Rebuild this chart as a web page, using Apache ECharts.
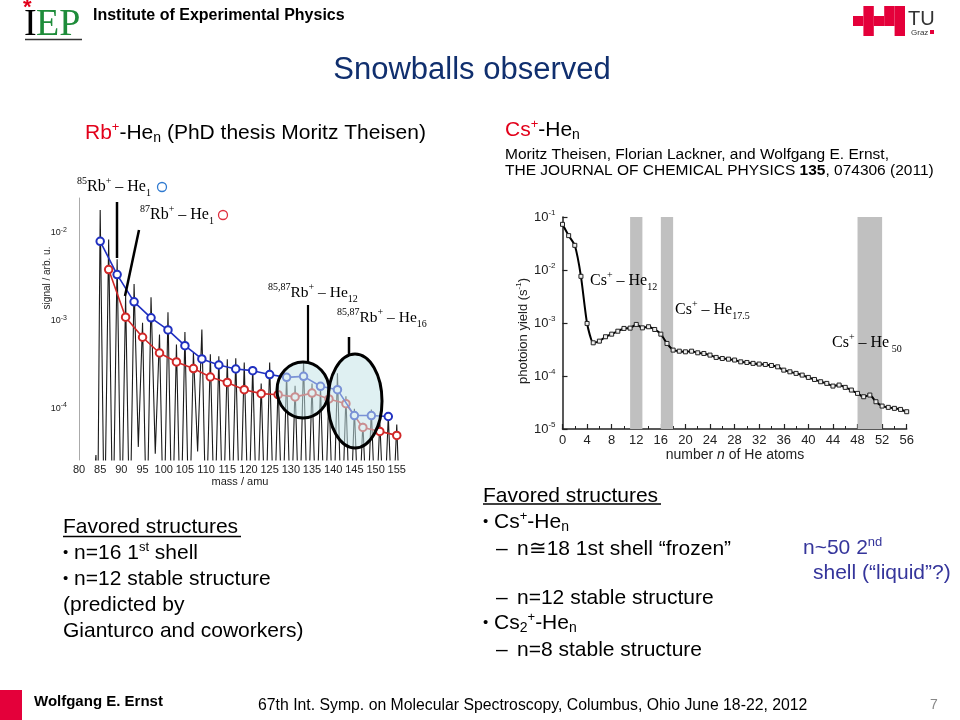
<!DOCTYPE html>
<html><head><meta charset="utf-8">
<script src="https://cdn.jsdelivr.net/npm/echarts@6/dist/echarts.min.js"></script>
<style>html,body{margin:0;padding:0;background:#fff}#c{width:960px;height:720px}</style>
</head><body><div id="c"></div>
<script>
// ---------------- Left chart data: Rb+-He_n mass spectrum ----------------
const rb85Mass   = [85,89,93,97,101,105,109,113,117,121,125,129,133,137,141,145,149,153];
const rb85Signal = [8.0e-3,3.34e-3,1.63e-3,1.07e-3,7.8e-4,5.15e-4,3.63e-4,3.10e-4,2.79e-4,2.67e-4,2.41e-4,2.24e-4,2.30e-4,1.77e-4,1.62e-4,8.2e-5,8.2e-5,8.0e-5];
const rb87Mass   = [87,91,95,99,103,107,111,115,119,123,127,131,135,139,143,147,151,155];
const rb87Signal = [3.81e-3,1.09e-3,6.43e-4,4.25e-4,3.36e-4,2.82e-4,2.26e-4,1.96e-4,1.62e-4,1.46e-4,1.42e-4,1.34e-4,1.48e-4,1.27e-4,1.12e-4,6.0e-5,5.41e-5,4.87e-5];
const specMass = [83.3,84,84.4,85,86,87,88,89,90,91,92,93,94,95,96,97,98,99,100,101,102,103,104,105,106,107,108,109,110,
  111,112,113,114,115,116,117,118,119,120,121,122,123,124,125,126,127,128,129,130,131,132,133,134,135,136,137,138,139,140,
  141,142,143,144,145,146,147,148,149,150,151,152,153,154,155,155.8];
const specSignal = [1e-5,2.9e-5,4e-6,1.82e-2,3e-6,8.4e-3,3e-6,5.0e-3,3e-6,1.9e-3,3e-6,2.6e-3,3.6e-5,9.4e-4,3e-6,1.84e-3,3.0e-5,6.9e-4,3e-6,1.24e-3,3e-6,5.3e-4,3e-6,7.4e-4,3e-6,4.3e-4,3.2e-5,7.9e-4,4e-6,
  4.1e-4,4e-6,3.9e-4,4e-6,3.6e-4,4e-6,3.7e-4,4e-6,3.3e-4,4e-6,3.0e-4,4e-6,1.9e-4,4e-6,3.3e-4,4e-6,1.9e-4,4e-6,2.5e-4,4e-6,1.8e-4,4e-6,3.4e-4,4e-6,1.9e-4,4e-6,1.8e-4,4e-6,1.6e-4,4e-6,
  2.5e-4,4e-6,1.36e-4,4e-6,9.8e-5,5e-6,6.8e-5,5e-6,9.6e-5,5e-6,7.0e-5,5e-6,8.2e-5,5e-6,6.5e-5,5e-6];

// ---------------- Right chart data: Cs+-He_n photoion yield ----------------
const csN = [0,1,2,3,4,5,6,7,8,9,10,11,12,13,14,15,16,17,18,19,20,21,22,23,24,25,26,27,28,29,30,31,32,33,34,35,36,37,38,39,40,41,42,43,44,45,46,47,48,49,50,51,52,53,54,55,56];
const csYield = [0.0727,0.0445,0.0292,7.6e-3,9.8e-4,4.23e-4,4.55e-4,5.5e-4,6.16e-4,7.0e-4,7.9e-4,8.0e-4,9.4e-4,8.1e-4,8.5e-4,7.55e-4,6.16e-4,4.11e-4,3.08e-4,2.94e-4,
  2.86e-4,2.94e-4,2.74e-4,2.66e-4,2.48e-4,2.24e-4,2.14e-4,2.08e-4,2.0e-4,1.85e-4,1.80e-4,1.73e-4,1.68e-4,1.65e-4,1.58e-4,1.49e-4,1.29e-4,1.20e-4,1.12e-4,1.04e-4,
  9.4e-5,8.6e-5,7.8e-5,7.25e-5,6.45e-5,6.75e-5,6.1e-5,5.43e-5,4.7e-5,4.06e-5,4.37e-5,3.27e-5,2.71e-5,2.56e-5,2.45e-5,2.34e-5,2.12e-5];
const csBands = [[11,13],[16,18],[48,52]];

const SANS = "'Liberation Sans', Arial, Helvetica, sans-serif";
const SERIF = "'Liberation Serif', 'Times New Roman', serif";
const RED = '#e2001a';
const BLUE2 = '#35359b';

const chart = echarts.init(document.getElementById('c'), null, {renderer: 'canvas', width: 960, height: 720});

function pow10Label(v) {
  const e = Math.log10(v), r = Math.round(e);
  if (Math.abs(e - r) > 1e-6) return '';
  return '10{s|' + r + '}';
}

const richBody = {
  sup: {fontSize: 13, lineHeight: 13, verticalAlign: 'top', fontFamily: SANS, fill: '#000'},
  sub: {fontSize: 14, lineHeight: 14, verticalAlign: 'bottom', fontFamily: SANS, fill: '#000'},
  red: {fontSize: 21, lineHeight: 24, fontFamily: SANS, fill: RED},
  redsup: {fontSize: 13, lineHeight: 13, verticalAlign: 'top', fontFamily: SANS, fill: RED},
  bul: {fontSize: 15, lineHeight: 24, fontFamily: SANS, fill: '#000'},
  bsup: {fontSize: 13, lineHeight: 13, verticalAlign: 'top', fontFamily: SANS, fill: BLUE2}
};
const richSerif = {
  sup: {fontSize: 10, lineHeight: 10, verticalAlign: 'top', fontFamily: SERIF, fill: '#000'},
  sub: {fontSize: 10, lineHeight: 9, verticalAlign: 'bottom', fontFamily: SERIF, fill: '#000'}
};

function T(x, y, text, o) {
  o = o || {};
  return {
    type: 'text', x: x, y: y, rotation: o.rot || 0, z: 200,
    style: {
      text: text, fill: o.fill || '#000', fontSize: o.size || 21, fontFamily: o.family || SANS,
      fontWeight: o.weight || 'normal', fontStyle: o.fstyle || 'normal',
      align: o.align || 'left', verticalAlign: o.va || 'middle',
      lineHeight: o.lh || 24, rich: o.rich
    }
  };
}
function L(x1, y1, x2, y2, w, c) {
  return {type: 'line', z: 150, shape: {x1: x1, y1: y1, x2: x2, y2: y2}, style: {stroke: c || '#000', lineWidth: w || 2}};
}
function R(x, y, w, h, c) {
  return {type: 'rect', z: 150, shape: {x: x, y: y, width: w, height: h}, style: {fill: c}};
}

// TU Graz logo blocks (grid cells)
const tuCells = [[1,0],[3,0],[4,0],[0,1],[1,1],[2,1],[3,1],[4,1],[1,2],[4,2]];
const tuRects = tuCells.map(c => R(853 + c[0] * 10.4, 6 + c[1] * 10, 10.4, 10, '#e4003a'));

const graphics = [
  // header
  T(24, 25, 'I', {size: 38, family: SERIF}),
  T(23, 8, '*', {size: 22, family: SANS, weight: 'bold', fill: RED}),
  T(36, 25, 'EP', {size: 38, family: SERIF, fill: '#1e8c3a'}),
  L(25, 39.5, 82, 39.5, 1.5, '#333'),
  T(93, 16, 'Institute of Experimental Physics', {size: 16, weight: 'bold'}),
  ...tuRects,
  T(908, 19, 'TU', {size: 20, fill: '#333'}),
  T(911, 33, 'Graz', {size: 8, fill: '#333'}),
  R(930, 30, 4, 4, '#e4003a'),
  T(472, 70, 'Snowballs observed', {size: 31, fill: '#102f6e', align: 'center'}),

  // left heading
  T(85, 133, '{red|Rb}{redsup|+}-He{sub|n} (PhD thesis Moritz Theisen)', {rich: richBody}),
  // right heading
  T(505, 130, '{red|Cs}{redsup|+}-He{sub|n}', {rich: richBody}),
  T(505, 155, 'Moritz Theisen, Florian Lackner, and Wolfgang E. Ernst,', {size: 15.5}),
  T(505, 171, 'THE JOURNAL OF CHEMICAL PHYSICS {b|135}, 074306 (2011)', {size: 15.5,
    rich: {b: {fontSize: 15.5, fontWeight: 'bold', fontFamily: SANS, fill: '#000'}}}),

  // left chart axis titles
  T(47, 278, 'signal / arb. u.', {size: 10, rot: Math.PI / 2, align: 'center', fill: '#222'}),
  T(240, 482, 'mass / amu', {size: 11, align: 'center', fill: '#222'}),

  // left chart annotations
  T(77, 187, '{sup|85}Rb{sup|+} \u2013 He{sub|1}', {size: 16, family: SERIF, lh: 22, rich: richSerif}),
  {type: 'circle', z: 160, shape: {cx: 162, cy: 187, r: 4.5}, style: {fill: 'none', stroke: '#2f7ad0', lineWidth: 1.3}},
  T(140, 215, '{sup|87}Rb{sup|+} \u2013 He{sub|1}', {size: 16, family: SERIF, lh: 22, rich: richSerif}),
  {type: 'circle', z: 160, shape: {cx: 223, cy: 215, r: 4.5}, style: {fill: 'none', stroke: '#e03040', lineWidth: 1.3}},
  T(268, 293, '{sup|85,87}Rb{sup|+} \u2013 He{sub|12}', {size: 15.5, family: SERIF, lh: 22, rich: richSerif}),
  T(337, 318, '{sup|85,87}Rb{sup|+} \u2013 He{sub|16}', {size: 15.5, family: SERIF, lh: 22, rich: richSerif}),
  L(117, 202, 117, 258, 2.5),
  L(139, 230, 125, 296, 2.5),
  L(308, 305, 308, 363, 2.2),
  L(349, 337, 349, 354, 2.5),
  {type: 'ellipse', z: 140, shape: {cx: 303, cy: 390, rx: 26, ry: 28},
    style: {fill: 'rgba(196,228,232,0.55)', stroke: '#000', lineWidth: 3}},
  {type: 'ellipse', z: 140, shape: {cx: 355, cy: 401, rx: 27, ry: 47},
    style: {fill: 'rgba(196,228,232,0.55)', stroke: '#000', lineWidth: 3}},

  // right chart axis titles
  T(523, 331, 'photoion yield (s{s|-1})', {size: 13, rot: Math.PI / 2, align: 'center', fill: '#222', lh: 16,
    rich: {s: {fontSize: 8, lineHeight: 8, verticalAlign: 'top', fontFamily: SANS, fill: '#222'}}}),
  T(735, 455, 'number {i|n} of He atoms', {size: 14, align: 'center', fill: '#222',
    rich: {i: {fontSize: 14, fontStyle: 'italic', fontFamily: SANS, fill: '#222'}}}),
  // right chart annotations
  T(590, 281, 'Cs{sup|+} \u2013 He{sub|12}', {size: 16, family: SERIF, lh: 22, rich: richSerif}),
  T(675, 310, 'Cs{sup|+} \u2013 He{sub|17.5}', {size: 16, family: SERIF, lh: 22, rich: richSerif}),
  T(832, 343, 'Cs{sup|+} \u2013 He{sub| 50}', {size: 16, family: SERIF, lh: 22, rich: richSerif}),

  // left text block
  T(63, 527, 'Favored structures'),
  L(63, 536.5, 241, 536.5, 1.5),
  T(63, 553, '{bul|\u2022} n=16 1{sup|st} shell', {rich: richBody}),
  T(63, 579, '{bul|\u2022} n=12 stable structure', {rich: richBody}),
  T(63, 605, '(predicted by'),
  T(63, 631, 'Gianturco and coworkers)'),

  // right text block
  T(483, 496, 'Favored structures'),
  L(483, 504, 661, 504, 1.5),
  T(483, 522, '{bul|\u2022} Cs{sup|+}-He{sub|n}', {rich: richBody}),
  T(496, 549, '\u2013'),
  T(517, 549, 'n\u224518 1st shell \u201cfrozen\u201d'),
  T(803, 548, 'n~50 2{bsup|nd}', {fill: BLUE2, rich: richBody}),
  T(813, 573, 'shell (\u201cliquid\u201d?)', {fill: BLUE2}),
  T(496, 598, '\u2013'),
  T(517, 598, 'n=12 stable structure'),
  T(483, 623, '{bul|\u2022} Cs{sub|2}{sup|+}-He{sub|n}', {rich: richBody}),
  T(496, 650, '\u2013'),
  T(517, 650, 'n=8 stable structure'),

  // footer
  R(0, 690, 22, 30, '#e4003a'),
  T(34, 702, 'Wolfgang E. Ernst', {size: 15, weight: 'bold'}),
  T(258, 706, '67th Int. Symp. on Molecular Spectroscopy, Columbus, Ohio June 18-22, 2012', {size: 15.8}),
  T(930, 705, '7', {size: 14, fill: '#888'})
];

const option = {
  backgroundColor: '#fff',
  animation: false,
  grid: [
    {left: 79, top: 198, width: 322, height: 262},
    {left: 562.5, top: 217, width: 344.2, height: 212}
  ],
  xAxis: [
    {type: 'value', gridIndex: 0, min: 80, max: 156, interval: 5,
      axisLine: {show: false}, axisTick: {show: false}, splitLine: {show: false},
      axisLabel: {fontSize: 11, color: '#222', margin: 4, fontFamily: SANS,
        formatter: v => (v % 5 === 0 ? String(v) : '')}},
    {type: 'value', gridIndex: 1, min: 0, max: 56, interval: 4,
      axisLine: {show: true, lineStyle: {color: '#222', width: 1.5}},
      axisTick: {show: true, inside: true, length: 5, lineStyle: {color: '#222', width: 1.2}},
      minorTick: {show: true, splitNumber: 2, length: 3, lineStyle: {color: '#222', width: 1}},
      splitLine: {show: false},
      axisLabel: {fontSize: 13, color: '#222', margin: 5, fontFamily: SANS}}
  ],
  yAxis: [
    {type: 'log', logBase: 10, gridIndex: 0, min: 2.55e-5, max: 0.025,
      axisLine: {show: true, lineStyle: {color: '#aaa', width: 1}},
      axisTick: {show: false}, splitLine: {show: false},
      axisLabel: {fontSize: 9, color: '#222', margin: 12, lineHeight: 12, fontFamily: SANS,
        formatter: pow10Label,
        rich: {s: {fontSize: 7, lineHeight: 7, verticalAlign: 'top', fontFamily: SANS, color: '#222'}}}},
    {type: 'log', logBase: 10, gridIndex: 1, min: 1e-5, max: 0.1,
      axisLine: {show: true, lineStyle: {color: '#222', width: 1.5}},
      axisTick: {show: true, inside: true, length: 5, lineStyle: {color: '#222', width: 1.2}},
      splitLine: {show: false},
      axisLabel: {fontSize: 13, color: '#222', margin: 7, lineHeight: 16, fontFamily: SANS,
        formatter: pow10Label,
        rich: {s: {fontSize: 8, lineHeight: 8, verticalAlign: 'top', fontFamily: SANS, color: '#222'}}}}
  ],
  series: [
    {type: 'line', name: 'spectrum', xAxisIndex: 0, yAxisIndex: 0, z: 2, clip: true,
      data: specMass.map((m, i) => [m, specSignal[i]]), symbol: 'none',
      lineStyle: {color: '#1a1a1a', width: 1.1}},
    {type: 'line', name: '87Rb', xAxisIndex: 0, yAxisIndex: 0, z: 4,
      data: rb87Mass.map((m, i) => [m, rb87Signal[i]]),
      symbol: 'emptyCircle', symbolSize: 7.5,
      lineStyle: {color: '#d02828', width: 1.6},
      itemStyle: {color: '#d02828', borderWidth: 1.5}},
    {type: 'line', name: '85Rb', xAxisIndex: 0, yAxisIndex: 0, z: 5,
      data: rb85Mass.map((m, i) => [m, rb85Signal[i]]),
      symbol: 'emptyCircle', symbolSize: 7.5,
      lineStyle: {color: '#2030c0', width: 1.6},
      itemStyle: {color: '#2030c0', borderWidth: 1.5}},
    {type: 'line', name: 'Cs', xAxisIndex: 1, yAxisIndex: 1, z: 3,
      data: csN.map((n, i) => [n, csYield[i]]),
      smooth: 0.2, symbol: 'rect', symbolSize: 4,
      lineStyle: {color: '#000', width: 2},
      itemStyle: {color: '#eeeeee', borderColor: '#222', borderWidth: 1},
      markArea: {silent: true, itemStyle: {color: '#c0c0c0', opacity: 1},
        data: csBands.map(b => [{xAxis: b[0]}, {xAxis: b[1]}])}}
  ],
  graphic: {elements: graphics}
};
chart.setOption(option);
</script>
</body></html>
